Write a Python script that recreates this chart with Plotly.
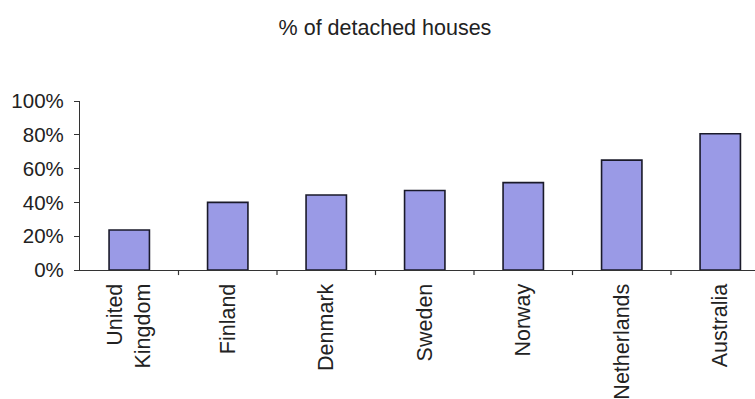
import plotly.graph_objects as go

categories = ["United<br>Kingdom", "Finland", "Denmark", "Sweden", "Norway", "Netherlands", "Australia"]
share_detached = [0.237, 0.40, 0.444, 0.47, 0.517, 0.65, 0.806]
y_tick_values = [0, 0.2, 0.4, 0.6, 0.8, 1.0]
y_tick_labels = ["0%", "20%", "40%", "60%", "80%", "100%"]

FONT = "Liberation Sans, Arial, sans-serif"
TEXT = "#222222"
AXIS = "#333333"

fig = go.Figure(
    go.Bar(
        x=list(range(len(categories))),
        y=share_detached,
        marker=dict(color="#9A9AE6", line=dict(color="#1a1a2a", width=1.6)),
        width=0.41,
        hoverinfo="skip",
    )
)

fig.update_layout(
    width=755,
    height=399,
    margin=dict(l=80, r=0, t=101, b=129),
    paper_bgcolor="white",
    plot_bgcolor="white",
    showlegend=False,
    font=dict(family=FONT, color=TEXT, size=20),
    title=dict(
        text="% of detached houses",
        font=dict(family=FONT, size=21.5, color=TEXT),
        xref="container", yref="container",
        x=385 / 755, xanchor="center",
        y=1 - 27 / 399, yanchor="middle",
    ),
)

fig.update_xaxes(
    range=[-0.5, -0.5 + 675 / 98.5],
    tickmode="array",
    tickvals=list(range(len(categories))),
    ticktext=categories,
    tickangle=-90,
    showline=True, linecolor=AXIS, linewidth=1.2,
    showgrid=False, zeroline=False,
    ticks="",
    ticklabelstandoff=4,
    tickfont=dict(family=FONT, size=21.5, color=TEXT),
)

fig.update_yaxes(
    range=[0, 1],
    tickmode="array",
    tickvals=y_tick_values,
    ticktext=y_tick_labels,
    showline=True, linecolor=AXIS, linewidth=1.2,
    ticks="outside", ticklen=5, tickcolor=AXIS, tickwidth=1.2,
    showgrid=False, zeroline=False,
    ticklabelstandoff=6,
    tickfont=dict(family=FONT, size=20.5, color=TEXT),
)

# boundary ticks on the x axis (between categories)
boundary_x = [i + 0.5 for i in range(len(categories) - 1)]
for bx in boundary_x:
    fig.add_shape(type="line", xref="x", yref="paper", x0=bx, x1=bx, y0=0, y1=-0.03,
                  line=dict(color=AXIS, width=1.2))

fig.write_html("out.html")
